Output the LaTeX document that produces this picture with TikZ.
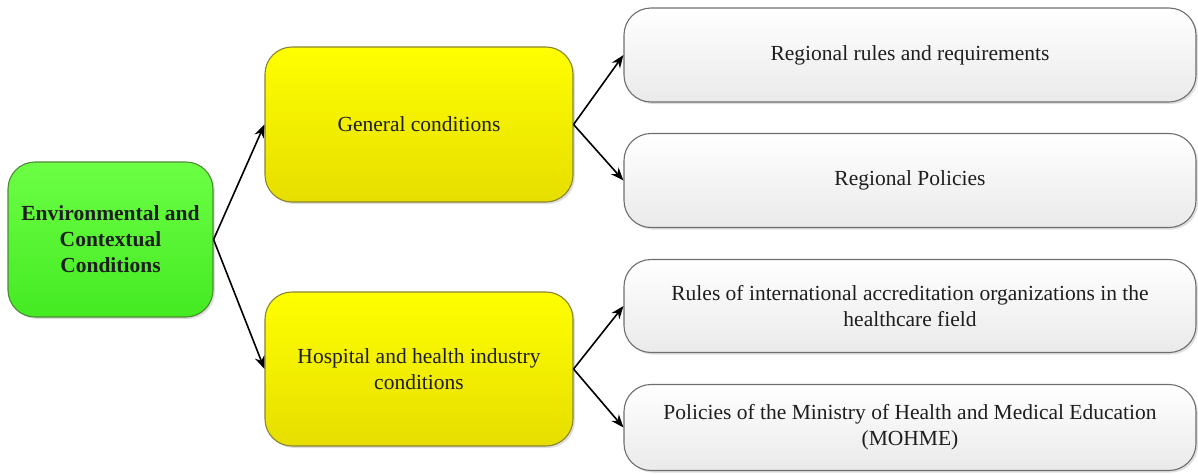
\documentclass[tikz,border=0pt]{standalone}
\usepackage{fontspec}
\setmainfont{Liberation Serif}
\usetikzlibrary{arrows.meta,shadows}
\definecolor{greentop}{HTML}{6CFF45}
\definecolor{greenbot}{HTML}{44EA22}
\definecolor{greenedge}{HTML}{4E8A34}
\definecolor{yeltop}{HTML}{FFFF00}
\definecolor{yelbot}{HTML}{E6DE00}
\definecolor{yeledge}{HTML}{8A8430}
\definecolor{graytop}{HTML}{FFFFFF}
\definecolor{graybot}{HTML}{EAEAEA}
\definecolor{grayedge}{HTML}{6E6E6E}
\definecolor{txt}{HTML}{1E1E1E}
\tikzset{
  basebox/.style={rounded corners=27pt, line width=1.1pt, inner sep=0pt,
    align=center, text=txt, font=\fontsize{21.5}{26}\selectfont,
    drop shadow={shadow xshift=2pt, shadow yshift=-2pt, opacity=0.25}},
  rootbox/.style={basebox, draw=greenedge, top color=greentop, bottom color=greenbot,
    font=\bfseries\fontsize{21.5}{26}\selectfont},
  midbox/.style={basebox, draw=yeledge, top color=yeltop, bottom color=yelbot},
  leafbox/.style={basebox, draw=grayedge, top color=graytop, bottom color=graybot},
  link/.style={line width=1.6pt, draw=black, -{Stealth[length=13pt,width=10pt]}}
}
\begin{document}
\begin{tikzpicture}[x=1pt,y=-1pt]
\useasboundingbox (0,0) rectangle (1198,474);
\node[rootbox, minimum width=205pt, minimum height=155pt] (root) at (110.5,239.5)
  {Environmental and\\Contextual\\Conditions};
\node[midbox, minimum width=308pt, minimum height=155pt] (gen) at (419,124.5)
  {General conditions};
\node[midbox, minimum width=308pt, minimum height=154pt] (hosp) at (419,369)
  {Hospital and health industry\\conditions};
\node[leafbox, minimum width=572pt, minimum height=94pt] (r1) at (910,55)
  {Regional rules and requirements};
\node[leafbox, minimum width=572pt, minimum height=94pt] (r2) at (910,180.5)
  {Regional Policies};
\node[leafbox, minimum width=572pt, minimum height=93pt] (r3) at (910,306)
  {Rules of international accreditation organizations in the\\healthcare field};
\node[leafbox, minimum width=572pt, minimum height=86pt] (r4) at (910,427.5)
  {Policies of the Ministry of Health and Medical Education\\(MOHME)};
\draw[link] (root.east) -- (gen.west);
\draw[link] (root.east) -- (hosp.west);
\draw[link] (gen.east) -- (r1.west);
\draw[link] (gen.east) -- (r2.west);
\draw[link] (hosp.east) -- (r3.west);
\draw[link] (hosp.east) -- (r4.west);
\end{tikzpicture}
\end{document}
